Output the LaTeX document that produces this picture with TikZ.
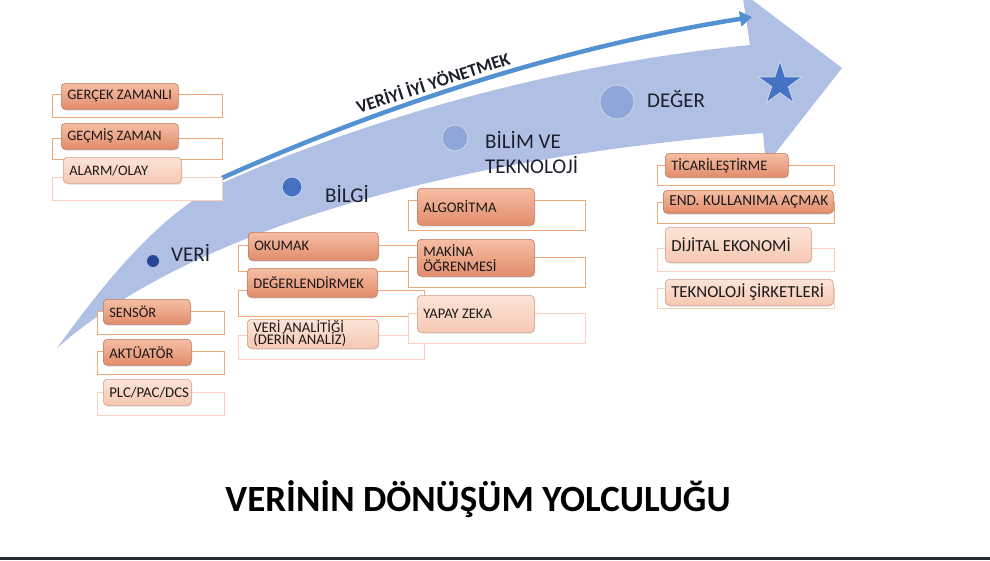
\documentclass[tikz,border=0pt]{standalone}
\usepackage{fontspec}
\setmainfont{Carlito}
\usepackage{tikz}
\usetikzlibrary{arrows.meta}
\usetikzlibrary{shapes.geometric}
\usetikzlibrary{shadows}

\definecolor{shaftblue}{RGB}{176,192,228}
\definecolor{lineblue}{RGB}{84,145,210}
\definecolor{navy}{RGB}{40,70,150}
\definecolor{midblue}{RGB}{70,114,196}
\definecolor{paleblue}{RGB}{143,166,216}
\definecolor{dotring}{RGB}{205,215,238}
\definecolor{ink}{RGB}{28,32,44}
\definecolor{darktop}{RGB}{246,190,164}
\definecolor{darkbot}{RGB}{226,140,108}
\definecolor{darkedge}{RGB}{190,120,92}
\definecolor{lighttop}{RGB}{252,228,216}
\definecolor{lightbot}{RGB}{246,200,178}
\definecolor{lightedge}{RGB}{212,160,134}
\definecolor{darkline}{RGB}{238,170,120}
\definecolor{lightline}{RGB}{246,210,190}
\definecolor{rule}{RGB}{38,44,52}

\begin{document}
\begin{tikzpicture}[x=1pt,y=-1pt,
    darkitem/.style={draw=darkedge,line width=0.6pt,rounded corners=4pt,top color=darktop,bottom color=darkbot,
        drop shadow={opacity=0.18,shadow xshift=1pt,shadow yshift=-1.5pt},
        anchor=north west,inner sep=0pt,text=black!90,align=left},
    lightitem/.style={darkitem,draw=lightedge,top color=lighttop,bottom color=lightbot},
    darkframe/.style={draw=darkline,fill=white,line width=0.9pt},
    lightframe/.style={draw=lightline,fill=white,line width=0.9pt},
    stage/.style={anchor=base west,inner sep=0pt,font=\fontsize{21}{25}\selectfont,text=ink,align=left},
    stagedot/.style={circle,inner sep=0pt,draw=dotring,line width=0.8pt}]
\useasboundingbox (0,0) rectangle (990,560);
% the big curved arrow
\fill[shaftblue] (57,348) .. controls (110,275) and (160,215) .. (222,183)
    .. controls (330,135) and (520,68) .. (750,45)
    -- (742,-8) -- (842,68) -- (766,165) -- (763,133)
    .. controls (420,160) and (180,240) .. (57,348) -- cycle;
\coordinate (mstart) at (222,178);
\coordinate (mend) at (752,17);
\draw[lineblue,line width=4.5pt,-{Triangle[length=12pt,width=15pt]}] (mstart) .. controls (340,125) and (530,52) .. (mend);
\node[anchor=base,font=\fontsize{18}{18}\selectfont\bfseries,text=ink,rotate=18,inner sep=0pt] (manage) at (435,89) {VERİYİ İYİ YÖNETMEK};
% lists
\foreach \n/\x/\y/\w/\h/\rl/\rt/\rr/\rb/\kind/\fs/\txt in {
    gz/61/83/117/26/52/94/222/117/dark/14.5/{GERÇEK ZAMANLI},
    gc/61/123/117/26/52/138/222/159/dark/14.4/{GEÇMİŞ ZAMAN},
    al/63/157/118/26/52/177/222/200/light/14.5/{ALARM/OLAY},
    sn/103/299/87/25/97/311/224/334/dark/14.4/{SENSÖR},
    ak/103/339/88/26/97/351/224/374/dark/14.7/{AKTÜATÖR},
    plc/103/379/88/26/97/392/224/415/light/14.8/{PLC/PAC/DCS},
    ok/248/232/130/28/238/245/417/271/dark/14.6/{OKUMAK},
    dg/247/268/130/29/238/290/424/316/dark/14.6/{DEĞERLENDİRMEK},
    va/247/319/131/29/238/335/424/359/light/14.7/{VERİ ANALİTİĞİ\\[-3pt](DERİN ANALİZ)},
    alg/417/188/117/37/408/200/585/230/dark/14.7/{ALGORİTMA},
    mk/417/239/117/37/408/257/585/287/dark/14.6/{MAKİNA\\ÖĞRENMESİ},
    yz/417/295/117/37/408/313/585/343/light/14.6/{YAPAY ZEKA},
    tc/665/153/123/24/657/165/834/185/dark/14.5/{TİCARİLEŞTİRME},
    ek/663/190/170/23/657/202/834/223/dark/15.3/{END.\ KULLANIMA AÇMAK},
    de/665/227/146/35/657/248/834/271/light/16.8/{DİJİTAL EKONOMİ},
    ts/665/279/168/26/657/288/834/308/light/16.8/{TEKNOLOJİ ŞİRKETLERİ}}
{
    \draw[\kind frame] (\rl,\rt) rectangle (\rr,\rb);
    \node[\kind item,minimum width=\w pt,minimum height=\h pt,text width=\w pt,font=\fontsize{\fs}{\fs}\selectfont] (\n) at (\x,\y)
        {\spaceskip=0pt\leftskip=6pt\hyphenpenalty=10000\relax\txt\par};
}
% stages
\node[stagedot,fill=navy,draw=none,minimum size=12pt] (dveri) at (153,261) {};
\node[stagedot,fill=midblue,minimum size=20pt] (dbilgi) at (292,187) {};
\node[stagedot,fill=paleblue,minimum size=26pt] (dbilim) at (455,138) {};
\node[stagedot,fill=paleblue,minimum size=34pt] (ddeger) at (617,102) {};
\node[star,star points=5,star point ratio=2.62,fill=midblue,draw=dotring,line width=0.8pt,minimum size=46pt,inner sep=0pt] (goal) at (780,84) {};
\node[stage] (veri) at (171,261) {VERİ};
\node[stage] (bilgi) at (325,202) {BİLGİ};
\node[stage] (bilim) at (485,173) {\spaceskip=0pt\relax BİLİM VE\\TEKNOLOJİ};
\node[stage] (deger) at (647,107) {DEĞER};
% title
\node[anchor=base,font=\fontsize{37}{40}\selectfont\bfseries,text=black] (title) at (478,511) {VERİNİN DÖNÜŞÜM YOLCULUĞU};
\draw[rule,line width=3pt] (0,558.5) -- (990,558.5);
\end{tikzpicture}
\end{document}
